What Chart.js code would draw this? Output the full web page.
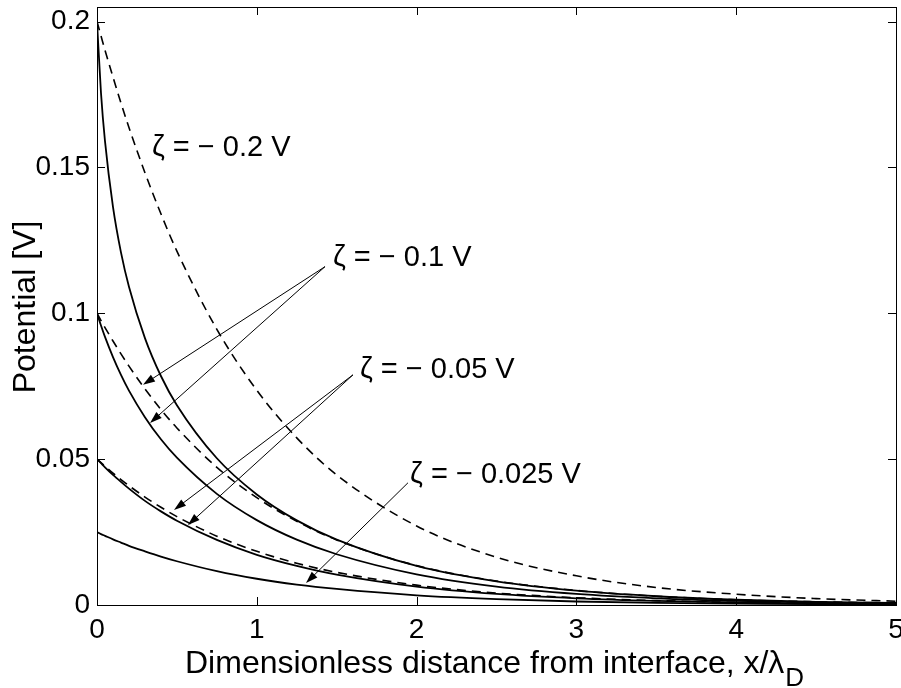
<!DOCTYPE html>
<html>
<head>
<meta charset="utf-8">
<script src="https://cdn.jsdelivr.net/npm/chart.js@4.4.1/dist/chart.umd.min.js"></script>
<style>
  html, body { margin: 0; padding: 0; background: #fff; }
</style>
</head>
<body>
<canvas id="grafico" width="901" height="688"></canvas>
<script>
// distancia adimensional x/lambda_D
const distancia = [0, 0.025, 0.05, 0.1, 0.15, 0.2, 0.3, 0.4, 0.5, 0.75, 1, 1.25, 1.5, 2, 2.5, 3, 3.5, 4, 4.5, 5]

// curvas solidas (no lineal)
const solida020 = [0.2, 0.1755, 0.159, 0.1365, 0.1209, 0.1091, 0.0915, 0.0785, 0.0685, 0.0503, 0.0379, 0.029, 0.0224, 0.0134, 0.0081, 0.0049, 0.003, 0.0018, 0.0011, 0.0007]
const solida010 = [0.1, 0.0958, 0.0919, 0.085, 0.0789, 0.0735, 0.0644, 0.0568, 0.0505, 0.0381, 0.0291, 0.0224, 0.0174, 0.0105, 0.0063, 0.0038, 0.0023, 0.0014, 0.0009, 0.0005]
const solida005 = [0.05, 0.0486, 0.0472, 0.0446, 0.0422, 0.0399, 0.0357, 0.0321, 0.0289, 0.0223, 0.0172, 0.0134, 0.0104, 0.0063, 0.0038, 0.0023, 0.0014, 0.0009, 0.0005, 0.0003]
const solida0025 = [0.025, 0.0243, 0.0237, 0.0225, 0.0214, 0.0203, 0.0184, 0.0166, 0.015, 0.0116, 0.009, 0.007, 0.0055, 0.0033, 0.002, 0.0012, 0.0007, 0.0005, 0.0003, 0.0002]

// curvas punteadas (lineal)
const punteada020 = [0.2, 0.1951, 0.1902, 0.181, 0.1721, 0.1637, 0.1482, 0.1341, 0.1213, 0.0945, 0.0736, 0.0573, 0.0446, 0.0271, 0.0164, 0.01, 0.006, 0.0037, 0.0022, 0.0013]
const punteada010 = [0.1, 0.0975, 0.0951, 0.0905, 0.0861, 0.0819, 0.0741, 0.067, 0.0607, 0.0472, 0.0368, 0.0287, 0.0223, 0.0135, 0.0082, 0.005, 0.003, 0.0018, 0.0011, 0.0007]
const punteada005 = [0.05, 0.0488, 0.0476, 0.0452, 0.043, 0.0409, 0.037, 0.0335, 0.0303, 0.0236, 0.0184, 0.0143, 0.0112, 0.0068, 0.0041, 0.0025, 0.0015, 0.0009, 0.0006, 0.0003]

const xTicks = [0, 1, 2, 3, 4, 5]
const xTickLabels = ["0", "1", "2", "3", "4", "5"]
const yTicks = [0, 0.05, 0.1, 0.15, 0.2]
const yTickLabels = ["0", "0.05", "0.1", "0.15", "0.2"]

const etiquetas = ["ζ = − 0.2 V", "ζ = − 0.1 V", "ζ = − 0.05 V", "ζ = − 0.025 V"]

const fuente = '"Liberation Sans", Arial, Helvetica, sans-serif'
const graph = document.getElementById("grafico")

const toPoints = (serie) => serie.map((v, i) => ({ x: distancia[i], y: v }))

const solida = (serie) => ({
  data: toPoints(serie),
  borderColor: "#000",
  borderWidth: 1.8,
  cubicInterpolationMode: "monotone",
  pointRadius: 0,
  fill: false
})
const punteada = (serie) => ({
  data: toPoints(serie),
  borderColor: "#000",
  borderWidth: 1.6,
  borderDash: [9, 6],
  cubicInterpolationMode: "monotone",
  pointRadius: 0,
  fill: false
})

// textos y flechas en coordenadas de datos
const notas = [
  { texto: etiquetas[0], x: 0.344, y: 0.1568, flechas: [] },
  { texto: etiquetas[1], x: 1.477, y: 0.119, desde: [1.427, 0.116], flechas: [[0.288, 0.0755], [0.332, 0.0624]] },
  { texto: etiquetas[2], x: 1.646, y: 0.0806, desde: [1.602, 0.0789], flechas: [[0.482, 0.0326], [0.569, 0.0274]] },
  { texto: etiquetas[3], x: 1.959, y: 0.0446, desde: [1.946, 0.0419], flechas: [[1.308, 0.0075]] }
]

const flecha = (ctx, x0, y0, x1, y1) => {
  const ang = Math.atan2(y1 - y0, x1 - x0)
  const largo = 12, ancho = 4
  ctx.beginPath()
  ctx.moveTo(x0, y0)
  ctx.lineTo(x1 - Math.cos(ang) * largo * 0.8, y1 - Math.sin(ang) * largo * 0.8)
  ctx.stroke()
  ctx.beginPath()
  ctx.moveTo(x1, y1)
  ctx.lineTo(x1 - Math.cos(ang) * largo - Math.sin(ang) * ancho, y1 - Math.sin(ang) * largo + Math.cos(ang) * ancho)
  ctx.lineTo(x1 - Math.cos(ang) * largo + Math.sin(ang) * ancho, y1 - Math.sin(ang) * largo - Math.cos(ang) * ancho)
  ctx.closePath()
  ctx.fill()
}

const marco = {
  id: "marco",
  afterDraw(chart) {
    const { ctx, chartArea: a, scales } = chart
    const sx = scales.x, sy = scales.y
    ctx.save()
    ctx.strokeStyle = "#000"
    ctx.fillStyle = "#000"
    ctx.lineWidth = 1
    ctx.strokeRect(Math.round(a.left) + 0.5, Math.round(a.top) + 0.5, Math.round(a.right - a.left), Math.round(a.bottom - a.top))
    // ticks hacia adentro
    ctx.beginPath()
    xTicks.forEach((v) => {
      const px = Math.round(sx.getPixelForValue(v)) + 0.5
      ctx.moveTo(px, a.bottom); ctx.lineTo(px, a.bottom - 8)
      ctx.moveTo(px, a.top); ctx.lineTo(px, a.top + 8)
    })
    yTicks.forEach((v) => {
      const py = Math.round(sy.getPixelForValue(v)) + 0.5
      ctx.moveTo(a.left, py); ctx.lineTo(a.left + 8, py)
      ctx.moveTo(a.right, py); ctx.lineTo(a.right - 8, py)
    })
    ctx.stroke()

    // anotaciones
    ctx.font = "29px " + fuente
    ctx.textBaseline = "middle"
    ctx.textAlign = "left"
    notas.forEach((n) => {
      ctx.fillText(n.texto, sx.getPixelForValue(n.x), sy.getPixelForValue(n.y))
      n.flechas.forEach((f) => {
        flecha(ctx, sx.getPixelForValue(n.desde[0]), sy.getPixelForValue(n.desde[1]),
          sx.getPixelForValue(f[0]), sy.getPixelForValue(f[1]))
      })
    })

    // titulos de ejes
    ctx.font = "32px " + fuente
    ctx.textBaseline = "alphabetic"
    const tituloX = "Dimensionless distance from interface, x/λ"
    ctx.fillText(tituloX, 185, 673)
    const w = ctx.measureText(tituloX).width
    ctx.font = "26px " + fuente
    ctx.fillText("D", 185 + w + 1, 686)

    ctx.translate(26, 307)
    ctx.rotate(-Math.PI / 2)
    ctx.font = "32px " + fuente
    ctx.textAlign = "center"
    ctx.textBaseline = "middle"
    ctx.fillText("Potential [V]", 0, 0)
    ctx.restore()
  }
}

const renderGraph = new Chart(graph, {
  type: "line",
  data: {
    datasets: [
      solida(solida020), solida(solida010), solida(solida005), solida(solida0025),
      punteada(punteada020), punteada(punteada010), punteada(punteada005)
    ]
  },
  options: {
    responsive: false,
    animation: false,
    devicePixelRatio: 1,
    layout: { padding: { left: 0, right: 5, top: 7, bottom: 0 } },
    plugins: { legend: { display: false }, tooltip: { enabled: false } },
    scales: {
      x: {
        type: "linear", min: 0, max: 5,
        grid: { display: false, drawTicks: false },
        border: { display: false },
        ticks: {
          color: "#000", padding: 8, maxRotation: 0, autoSkip: false,
          font: { family: fuente, size: 28 },
          callback: (v, i) => xTickLabels[i]
        },
        afterBuildTicks: (s) => { s.ticks = xTicks.map((v) => ({ value: v })) },
        afterFit: (s) => { s.height = 83; s.paddingLeft = 0; s.paddingRight = 0 }
      },
      y: {
        type: "linear", min: 0, max: 0.205,
        grid: { display: false, drawTicks: false },
        border: { display: false },
        ticks: {
          color: "#000", padding: 7, autoSkip: false,
          font: { family: fuente, size: 28 },
          callback: (v, i) => yTickLabels[i]
        },
        afterBuildTicks: (s) => { s.ticks = yTicks.map((v) => ({ value: v })) },
        afterFit: (s) => { s.width = 97; s.paddingTop = 0; s.paddingBottom = 0 }
      }
    }
  },
  plugins: [marco]
})
</script>
</body>
</html>
